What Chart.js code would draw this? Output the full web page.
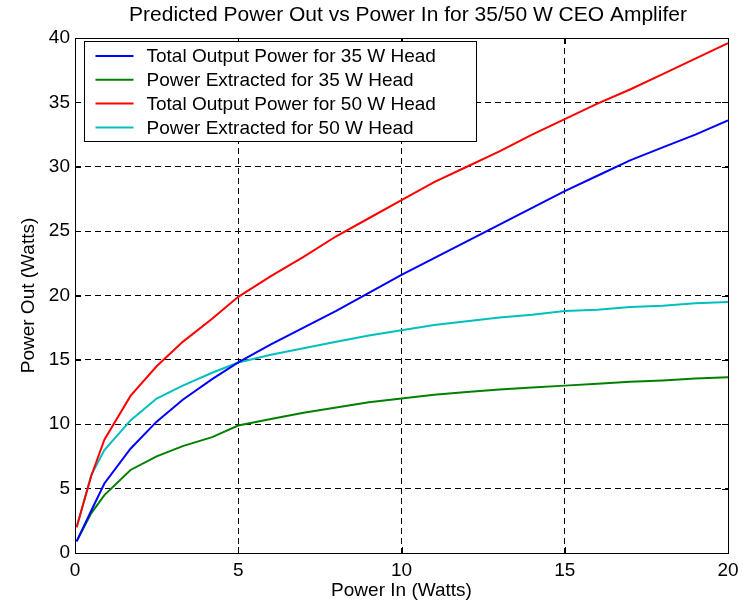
<!DOCTYPE html>
<html>
<head>
<meta charset="utf-8">
<script src="https://cdn.jsdelivr.net/npm/chart.js@4.4.1/dist/chart.umd.min.js"></script>
<style>
  html, body { margin: 0; background: #fff; }
</style>
</head>
<body>
<canvas id="powerChart" width="749" height="605"></canvas>
<script>
// input power points (W)
const powerIn = [0.05, 0.5, 0.9, 1.7, 2.5, 3.3, 4.2, 5, 6, 7, 8, 9, 10, 11, 12, 13, 14, 15, 16, 17, 18, 19, 20];

const total35 = [0.9, 3.3, 5.4, 8.1, 10.2, 11.9, 13.5, 14.8, 16.2, 17.5, 18.8, 20.2, 21.6, 22.9, 24.2, 25.5, 26.8, 28.1, 29.3, 30.5, 31.5, 32.5, 33.6];
const extracted35 = [0.9, 3.1, 4.5, 6.45, 7.5, 8.3, 9.0, 9.9, 10.4, 10.9, 11.3, 11.7, 12.0, 12.3, 12.5, 12.7, 12.85, 13.0, 13.15, 13.3, 13.4, 13.55, 13.65];
const total50 = [2.0, 6.0, 8.8, 12.2, 14.5, 16.4, 18.2, 19.9, 21.5, 23.0, 24.6, 26.0, 27.4, 28.8, 30.0, 31.2, 32.5, 33.7, 34.9, 36.0, 37.2, 38.4, 39.6];
const extracted50 = [2.0, 6.07, 8.0, 10.3, 12.0, 13.0, 14.0, 14.8, 15.4, 15.9, 16.4, 16.9, 17.3, 17.7, 18.0, 18.3, 18.5, 18.8, 18.9, 19.1, 19.2, 19.4, 19.5];

const seriesLabels = [
  'Total Output Power for 35 W Head',
  'Power Extracted for 35 W Head',
  'Total Output Power for 50 W Head',
  'Power Extracted for 50 W Head'
];
const seriesColors = ['#0000ff', '#008000', '#ff0000', '#00bfbf'];

const chartTitle = 'Predicted Power Out vs Power In for 35/50 W CEO Amplifer';
const FONT = '"Liberation Sans", Arial, Helvetica, sans-serif';

function pts(ys) {
  return powerIn.map((x, i) => ({ x: x, y: ys[i] }));
}

// title, axes box with inward ticks, legend inside plot
const matlabish = {
  id: 'matlabish',
  afterDraw(chart) {
    const ctx = chart.ctx;
    const a = chart.chartArea;
    const xs = chart.scales.x, ys = chart.scales.y;
    ctx.save();

    ctx.fillStyle = '#000';
    ctx.font = '21px ' + FONT;
    ctx.textAlign = 'center';
    ctx.textBaseline = 'middle';
    ctx.fillText(chartTitle, 408, 15);

    ctx.strokeStyle = '#000';
    ctx.lineWidth = 1;
    ctx.strokeRect(Math.round(a.left) + 0.5, Math.round(a.top) + 0.5,
      Math.round(a.right - a.left), Math.round(a.bottom - a.top));

    ctx.beginPath();
    xs.ticks.forEach(t => {
      const px = Math.round(xs.getPixelForValue(t.value)) + 0.5;
      ctx.moveTo(px, a.bottom); ctx.lineTo(px, a.bottom - 6);
      ctx.moveTo(px, a.top); ctx.lineTo(px, a.top + 6);
    });
    ys.ticks.forEach(t => {
      const py = Math.round(ys.getPixelForValue(t.value)) + 0.5;
      ctx.moveTo(a.left, py); ctx.lineTo(a.left + 6, py);
      ctx.moveTo(a.right, py); ctx.lineTo(a.right - 6, py);
    });
    ctx.stroke();

    // legend
    const lx = a.left + 9.5, ly = a.top + 3.5, lw = 392, lh = 100;
    ctx.fillStyle = '#fff';
    ctx.fillRect(lx, ly, lw, lh);
    ctx.strokeRect(lx, ly, lw, lh);
    ctx.font = '19px ' + FONT;
    ctx.textAlign = 'left';
    chart.data.datasets.forEach((ds, i) => {
      const ry = ly + 14.5 + i * 23.8;
      ctx.strokeStyle = ds.borderColor;
      ctx.lineWidth = 2;
      ctx.beginPath();
      ctx.moveTo(lx + 11, ry);
      ctx.lineTo(lx + 49, ry);
      ctx.stroke();
      ctx.fillStyle = '#000';
      ctx.fillText(ds.label, lx + 62, ry + 1);
    });
    ctx.restore();
  }
};

const ctx = document.getElementById('powerChart').getContext('2d');

new Chart(ctx, {
  type: 'line',
  data: {
    datasets: [total35, extracted35, total50, extracted50].map((ys, i) => ({
      label: seriesLabels[i],
      data: pts(ys),
      borderColor: seriesColors[i],
      backgroundColor: seriesColors[i],
      borderWidth: 2,
      pointRadius: 0,
      tension: 0,
      fill: false
    }))
  },
  options: {
    responsive: false,
    animation: false,
    devicePixelRatio: 1,
    layout: { padding: { top: 38, right: 21, left: 0, bottom: 0 } },
    plugins: {
      legend: { display: false },
      title: { display: false },
      tooltip: { enabled: false }
    },
    scales: {
      x: {
        type: 'linear',
        min: 0,
        max: 20,
        afterFit(s) { s.height = 52; },
        ticks: { stepSize: 5, color: '#000', padding: 6, font: { family: FONT, size: 19 } },
        grid: { color: '#000', lineWidth: 1, drawTicks: false },
        border: { display: false, dash: [6, 4] },
        title: {
          display: true,
          text: 'Power In (Watts)',
          color: '#000',
          font: { family: FONT, size: 19 },
          padding: { top: 0, bottom: 3 }
        }
      },
      y: {
        type: 'linear',
        min: 0,
        max: 40,
        afterFit(s) { s.width = 75; },
        ticks: { stepSize: 5, color: '#000', padding: 5, font: { family: FONT, size: 19 } },
        grid: { color: '#000', lineWidth: 1, drawTicks: false },
        border: { display: false, dash: [6, 4] },
        title: {
          display: true,
          text: 'Power Out (Watts)',
          color: '#000',
          font: { family: FONT, size: 19 },
          padding: { top: 17, bottom: 0 }
        }
      }
    }
  },
  plugins: [matlabish]
});
</script>
</body>
</html>
